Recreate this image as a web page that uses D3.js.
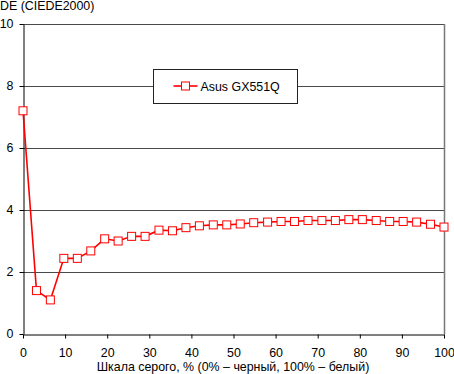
<!DOCTYPE html>
<html>

<head>
    <meta charset="utf-8">
    <title>DE (CIEDE2000)</title>
    <script src="https://d3js.org/d3.v7.min.js"></script>
    <style>
        body { margin: 0; background: #fff; }
        text { font-family: "Liberation Sans", Arial, sans-serif; font-size: 12.4px; fill: #000; }
    </style>
</head>

<body>
    <svg width="454" height="374"></svg>
    <script>
        // Dati: livelli di grigio (%) e valori DE
        var grigio = [0, 3.2, 6.5, 9.7, 12.9, 16.1, 19.4, 22.6, 25.8, 29.0, 32.3, 35.5, 38.7, 41.9, 45.2, 48.4,
            51.6, 54.8, 58.1, 61.3, 64.5, 67.7, 71.0, 74.2, 77.4, 80.6, 83.9, 87.1, 90.3, 93.5, 96.8, 100];
        var valoriDE = [7.2, 1.4, 1.1, 2.44, 2.44, 2.68, 3.07, 3.0, 3.15, 3.15, 3.35, 3.33, 3.43, 3.49, 3.52, 3.52,
            3.55, 3.59, 3.61, 3.63, 3.63, 3.66, 3.66, 3.66, 3.69, 3.69, 3.66, 3.63, 3.63, 3.61, 3.54, 3.45];
        var ticksX = [0, 10, 20, 30, 40, 50, 60, 70, 80, 90, 100];
        var ticksY = [0, 2, 4, 6, 8, 10];
        var nomeSerie = "Asus GX551Q";

        var margine = { sinistro: 23, destro: 10, superiore: 24, inferiore: 40 };
        var larghezza = 454, altezza = 374;

        var svg = d3.select("svg");

        var dati = grigio.map(function (g, i) { return { x: g, y: valoriDE[i] }; });

        // Scale
        var scalaX = d3.scaleLinear().domain([0, 100]).range([margine.sinistro, larghezza - margine.destro]);
        var scalaY = d3.scaleLinear().domain([0, 10]).range([altezza - margine.inferiore, margine.superiore]);

        // Griglia orizzontale
        svg.append("g")
            .selectAll("line")
            .data(ticksY.filter(function (t) { return t > 0; }))
            .enter()
            .append("line")
            .attr("x1", scalaX(0))
            .attr("x2", scalaX(100))
            .attr("y1", function (d) { return Math.round(scalaY(d)) + 0.5; })
            .attr("y2", function (d) { return Math.round(scalaY(d)) + 0.5; })
            .attr("stroke", "#4a4a4a")
            .attr("stroke-width", 1);

        // Bordo destro
        svg.append("line")
            .attr("x1", Math.round(scalaX(100)) + 0.5)
            .attr("x2", Math.round(scalaX(100)) + 0.5)
            .attr("y1", scalaY(10))
            .attr("y2", scalaY(0))
            .attr("stroke", "#777")
            .attr("stroke-width", 1.5);

        // Asse X
        var asseX = d3.axisBottom(scalaX).tickValues(ticksX).tickSize(4).tickPadding(10).tickSizeOuter(0);
        var gX = svg.append("g")
            .attr("transform", "translate(0," + (Math.round(scalaY(0)) + 0.5) + ")")
            .call(asseX);

        // Asse Y
        var asseY = d3.axisLeft(scalaY).tickValues(ticksY).tickSize(4).tickPadding(6).tickSizeOuter(0);
        var gY = svg.append("g")
            .attr("transform", "translate(" + (Math.round(scalaX(0)) + 0.5) + ",0)")
            .call(asseY);

        [gX, gY].forEach(function (g) {
            g.select(".domain").attr("stroke", "#000");
            g.selectAll(".tick line").attr("stroke", "#000");
            g.selectAll("text").style("font-size", "12.4px").attr("fill", "#000")
                .style("font-family", "'Liberation Sans', Arial, sans-serif");
        });

        // Linea dei dati
        var linea = d3.line()
            .x(function (d) { return scalaX(d.x); })
            .y(function (d) { return scalaY(d.y); });

        svg.append("path")
            .datum(dati)
            .attr("fill", "none")
            .attr("stroke", "#ff0000")
            .attr("stroke-width", 1.6)
            .attr("d", linea);

        // Marcatori quadrati
        svg.selectAll(".punto")
            .data(dati)
            .enter()
            .append("rect")
            .attr("class", "punto")
            .attr("x", function (d) { return scalaX(d.x) - 4; })
            .attr("y", function (d) { return scalaY(d.y) - 4; })
            .attr("width", 8)
            .attr("height", 8)
            .attr("fill", "#fff")
            .attr("stroke", "#ff0000")
            .attr("stroke-width", 1);

        // Legenda
        var legenda = svg.append("g").attr("transform", "translate(153.5,69.5)");
        legenda.append("rect")
            .attr("width", 144)
            .attr("height", 34)
            .attr("fill", "#fff")
            .attr("stroke", "#222")
            .attr("stroke-width", 1);
        legenda.append("line")
            .attr("x1", 20).attr("x2", 44)
            .attr("y1", 16.5).attr("y2", 16.5)
            .attr("stroke", "#ff0000")
            .attr("stroke-width", 1.6);
        legenda.append("rect")
            .attr("x", 28).attr("y", 12.5)
            .attr("width", 8).attr("height", 8)
            .attr("fill", "#fff")
            .attr("stroke", "#ff0000");
        legenda.append("text")
            .attr("x", 47)
            .attr("y", 21)
            .text(nomeSerie);

        // Titoli degli assi
        svg.append("text")
            .attr("x", 0)
            .attr("y", 10)
            .text("DE (CIEDE2000)");

        svg.append("text")
            .attr("x", 233)
            .attr("y", 371)
            .style("text-anchor", "middle")
            .text("Шкала серого, % (0% – черный, 100% – белый)");
    </script>
</body>

</html>
